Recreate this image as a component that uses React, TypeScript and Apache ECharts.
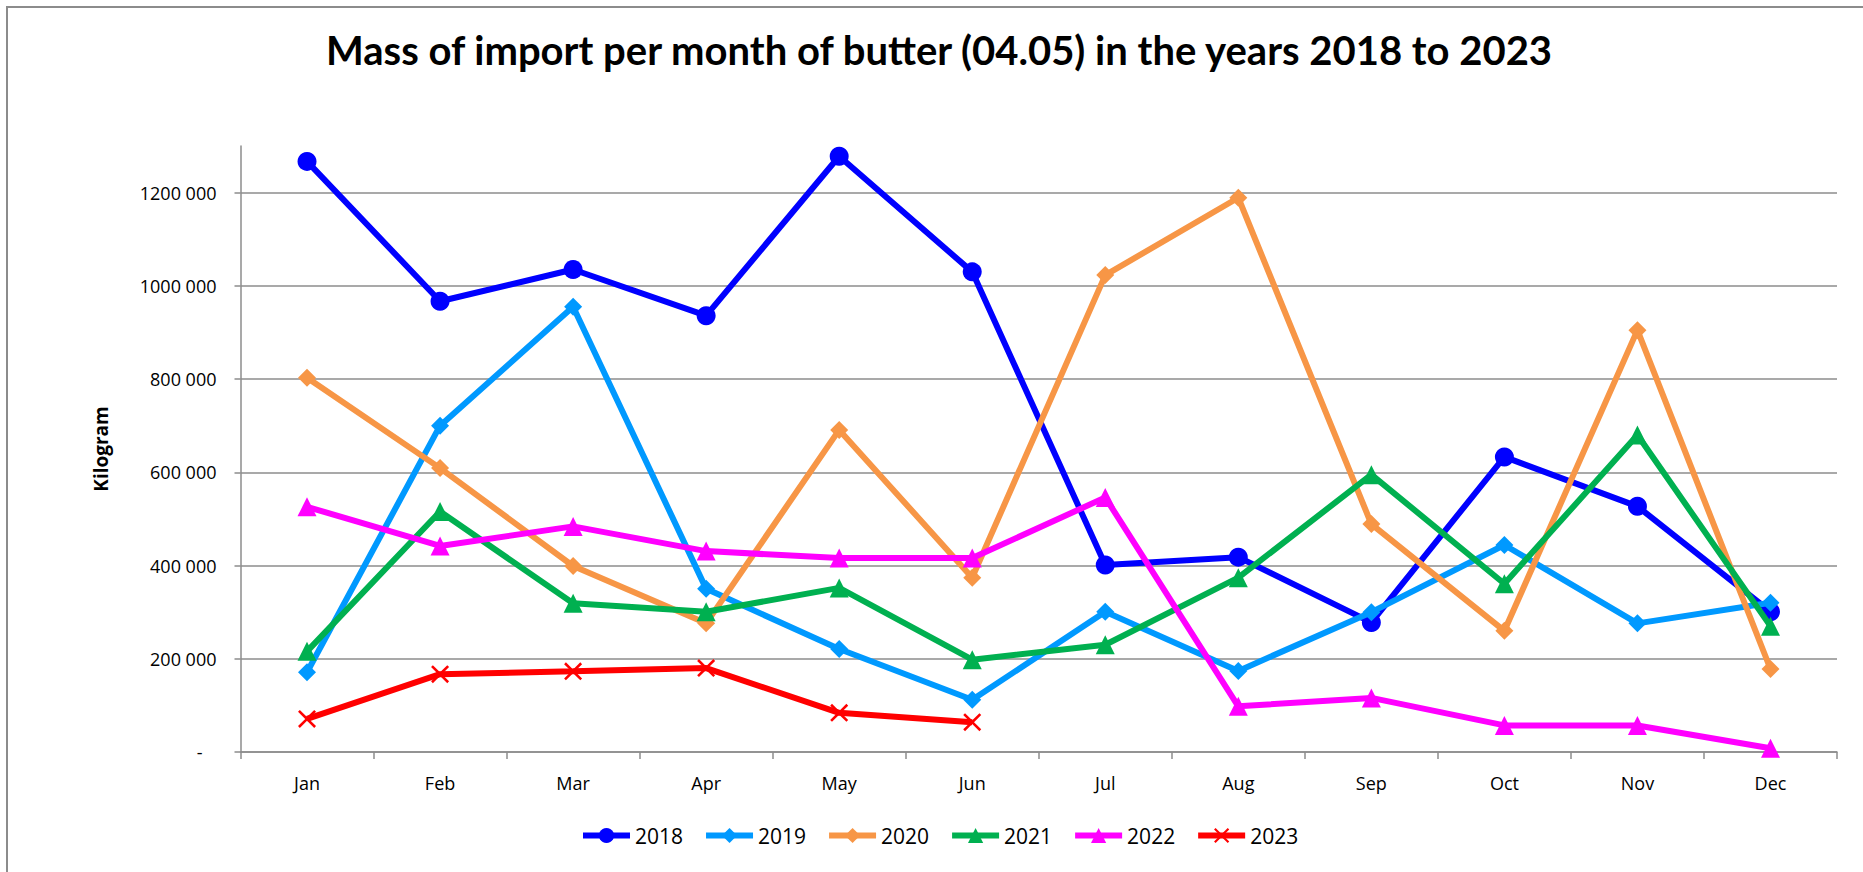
import React, { useEffect, useRef } from "react";
import * as echarts from "echarts";

const months = ["Jan", "Feb", "Mar", "Apr", "May", "Jun", "Jul", "Aug", "Sep", "Oct", "Nov", "Dec"];
const years = ["2018", "2019", "2020", "2021", "2022", "2023"];
const v2018 = [1267000, 967000, 1035000, 936000, 1278000, 1030000, 401000, 418000, 278000, 633000, 527000, 301000];
const v2019 = [171000, 700000, 955000, 350000, 221000, 112000, 301000, 174000, 300000, 444000, 276000, 320000];
const v2020 = [803000, 609000, 399000, 276000, 691000, 374000, 1023000, 1189000, 489000, 260000, 905000, 178000];
const v2021 = [216000, 516000, 319000, 301000, 352000, 198000, 230000, 374000, 595000, 361000, 680000, 270000];
const v2022 = [526000, 442000, 484000, 431000, 416000, 416000, 546000, 98000, 116000, 57000, 57000, 8000];
const v2023 = [71000, 167000, 173000, 180000, 84000, 64000];
const yTicks = [0, 200000, 400000, 600000, 800000, 1000000, 1200000];

const colors = ["#0000FF", "#0099FF", "#F79646", "#00B050", "#FF00FF", "#FF0000"];
const symbols = [
  "circle",
  "diamond",
  "diamond",
  "triangle",
  "triangle",
  "path://M0,1L1,0L5,4L9,0L10,1L6,5L10,9L9,10L5,6L1,10L0,9L4,5Z",
];
const symbolSizes = [19, 18, 18, 19, 19, 18];
const allValues = [v2018, v2019, v2020, v2021, v2022, v2023];

const FONT = "'Open Sans', sans-serif";

export default function App() {
  const ref = useRef<HTMLDivElement>(null);
  useEffect(() => {
    if (!ref.current) return;
    const chart = echarts.init(ref.current, null, { renderer: "svg" });
    const option: any = {
      animation: false,
      backgroundColor: "#ffffff",
      title: {
        text: "Mass of import per month of butter (04.05) in the years 2018 to 2023",
        left: 321,
        top: 25,
        textStyle: { fontFamily: "Lato, sans-serif", fontWeight: "bold", fontSize: 40, color: "#000" },
      },
      graphic: [
        {
          type: "rect",
          shape: { x: 7, y: 7, width: 1900, height: 900 },
          style: { fill: "none", stroke: "#8c8c8c", lineWidth: 2 },
          silent: true,
        },
      ],
      legend: {
        bottom: 21,
        left: 575,
        itemWidth: 47,
        itemHeight: 19,
        itemGap: 20,
        lineStyle: { width: 6 },
        textStyle: { fontFamily: FONT, fontSize: 21, color: "#000" },
        data: years,
      },
      grid: { left: 240.5, right: 26, top: 146, bottom: 120, containLabel: false },
      xAxis: {
        type: "category",
        data: months,
        boundaryGap: true,
        axisLine: { lineStyle: { color: "#8c8c8c", width: 1.5 } },
        axisTick: { show: true, interval: 0, length: 7, lineStyle: { color: "#8c8c8c", width: 1.5 } },
        axisLabel: { margin: 22, fontFamily: FONT, fontSize: 18, color: "#000" },
      },
      yAxis: {
        type: "value",
        min: 0,
        max: 1300000,
        interval: 200000,
        name: "Kilogram",
        nameLocation: "middle",
        nameGap: 130,
        nameRotate: 90,
        nameTextStyle: { fontFamily: FONT, fontWeight: "bold", fontSize: 19, color: "#000" },
        axisLine: { show: true, lineStyle: { color: "#8c8c8c", width: 1.5 } },
        axisTick: { show: true, length: 6, lineStyle: { color: "#8c8c8c", width: 1.5 }, customValues: yTicks },
        splitLine: { show: true, lineStyle: { color: "#8c8c8c", width: 1.5 } },
        axisLabel: {
          margin: 24,
          customValues: yTicks,
          fontFamily: FONT,
          fontSize: 18,
          color: "#000",
          formatter: (v: number) => {
            if (v === 0) return "{d|-}";
            return Math.floor(v / 1000) + " 000";
          },
          rich: { d: { fontFamily: FONT, fontSize: 18, color: "#000", padding: [0, 14, 0, 0] } },
        },
      },
      series: years.map((y, i) => ({
        name: y,
        type: "line",
        data: allValues[i],
        symbol: symbols[i],
        symbolSize: symbolSizes[i],
        showAllSymbol: true,
        lineStyle: { color: colors[i], width: 6 },
        itemStyle: { color: colors[i] },
        z: 2 + i,
      })),
    };
    chart.setOption(option);
    return () => chart.dispose();
  }, []);
  return <div ref={ref} style={{ position: "fixed", left: 0, top: 0, width: 1863, height: 872 }} />;
}
